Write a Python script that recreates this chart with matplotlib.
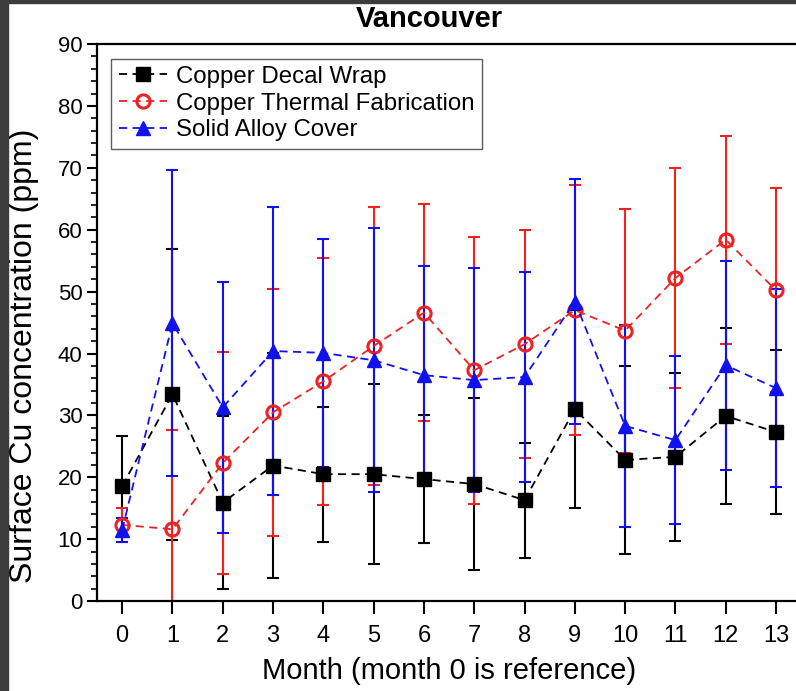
import numpy as np
import matplotlib
matplotlib.use("Agg")
import matplotlib.pyplot as plt
from matplotlib.ticker import MultipleLocator
from matplotlib.patches import Rectangle

plt.rcParams['font.family'] = ['Liberation Sans', 'DejaVu Sans']

# monthly surface Cu readings (mean and standard deviation), Vancouver site
months = np.arange(14)

decal_mean = [18.6, 33.4, 15.9, 21.9, 20.5, 20.5, 19.7, 18.9, 16.3, 31.0, 22.8, 23.3, 29.9, 27.3]
decal_sd = [8.1, 23.5, 14.0, 18.2, 10.9, 14.5, 10.4, 13.9, 9.3, 16.0, 15.2, 13.6, 14.3, 13.2]

thermal_mean = [12.3, 11.6, 22.3, 30.5, 35.5, 41.2, 46.6, 37.3, 41.5, 47.0, 43.7, 52.2, 58.4, 50.2]
thermal_sd = [2.7, 16.0, 18.0, 20.0, 20.0, 22.5, 17.5, 21.6, 18.4, 20.2, 19.7, 17.7, 16.8, 16.5]

alloy_mean = [11.5, 44.9, 31.3, 40.4, 40.1, 38.9, 36.5, 35.7, 36.2, 48.4, 28.3, 26.0, 38.1, 34.4]
alloy_sd = [1.9, 24.7, 20.3, 23.3, 18.4, 21.3, 17.6, 18.1, 16.9, 19.8, 16.3, 13.6, 16.9, 16.0]

labels = ['Copper Decal Wrap', 'Copper Thermal Fabrication', 'Solid Alloy Cover']

fig = plt.figure(figsize=(7.96, 6.91), dpi=100)
ax = fig.add_axes([0.1219, 0.1302, 0.8846, 0.806])

series = [
    (decal_mean, decal_sd, 'black', 's', 'black'),
    (thermal_mean, thermal_sd, '#ee2222', 'o', 'none'),
    (alloy_mean, alloy_sd, '#1111ee', '^', '#1111ee'),
]

# error bars first, then the dashed lines with markers on top
for i, (m, sd, c, mk, fc) in enumerate(series):
    ax.errorbar(months, m, yerr=sd, fmt='none', ecolor=c, elinewidth=1.5,
                capsize=4.5, capthick=1.5, zorder=2 + i * 0.1)

for i, (m, sd, c, mk, fc) in enumerate(series):
    ms = 9.5 if mk != '^' else 10.5
    ax.plot(months, m, linestyle=(0, (4.5, 3)), color=c, linewidth=1.3,
            marker=mk, markersize=ms, markerfacecolor=fc, markeredgecolor=c,
            markeredgewidth=2.2 if mk == 'o' else 1.0, label=labels[i], zorder=3 + i * 0.1)

ax.set_xlim(-0.5, 13.5)
ax.set_ylim(0, 90)
ax.set_xticks(months)
ax.yaxis.set_major_locator(MultipleLocator(10))
ax.yaxis.set_minor_locator(MultipleLocator(2))
ax.tick_params(axis='both', which='major', direction='out', length=7, width=1.5)
ax.tick_params(axis='y', which='major', labelsize=16)
ax.tick_params(axis='y', which='minor', direction='out', length=4, width=1.2)
ax.tick_params(axis='x', which='major', length=9, pad=8, labelsize=17)
for s in ax.spines.values():
    s.set_linewidth(1.6)

ax.set_xlabel('Month (month 0 is reference)', fontsize=21)
ax.xaxis.set_label_coords(0.5, -0.1)
ax.xaxis.label.set_va('top')
ax.set_ylabel('Surface Cu concentration (ppm)', fontsize=23)
ax.yaxis.set_label_coords(-0.082, 0.44)

leg = ax.legend(loc='upper left', fontsize=17.3, frameon=True, fancybox=False,
                edgecolor='#333333', handlelength=2.0, borderaxespad=0.6,
                labelspacing=0.2, handletextpad=0.4, borderpad=0.3)
leg.get_frame().set_linewidth(1.0)

fig.text(0.54, 0.972, 'Vancouver', fontsize=21, fontweight='bold', ha='center', va='center')

# dark screen border along the top and left edges
fig.patches.append(Rectangle((0, 0), 8 / 796, 1, transform=fig.transFigure, color='#3c3c3c', zorder=10))
fig.patches.append(Rectangle((0, 1 - 3 / 691), 1, 3 / 691, transform=fig.transFigure, color='#3c3c3c', zorder=10))

fig.savefig('out.png', dpi=100)
